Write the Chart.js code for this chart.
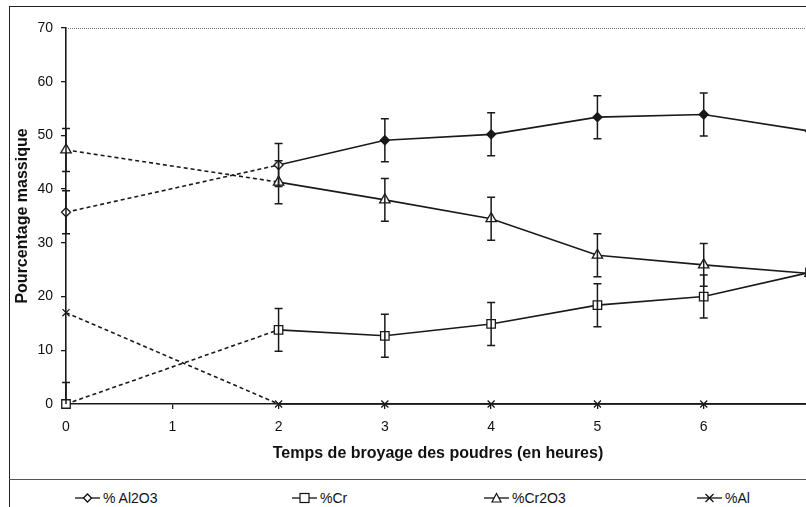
<!DOCTYPE html>
<html>
<head>
<meta charset="utf-8">
<script src="https://cdn.jsdelivr.net/npm/chart.js@4"></script>
<style>
  html, body { margin: 0; padding: 0; background: #fff; overflow: hidden; }
  body { width: 806px; height: 507px; position: relative; font-family: "Liberation Sans", Arial, sans-serif; }
  #frame { position: absolute; left: 9px; top: 6px; width: 840px; height: 520px; border: 1.5px solid #222; box-sizing: border-box; }
  #wrap { position: absolute; left: 0; top: 0; width: 830px; height: 479px; }
  #legend { position: absolute; left: 9px; top: 479px; width: 840px; height: 60px; border-top: 1px solid #555; }
  .item { position: absolute; top: 10px; font-size: 14px; color: #111; display: flex; align-items: center; white-space: nowrap; }
  .item svg { margin-right: 3px; }
</style>
</head>
<body>
<div id="frame"></div>
<div id="wrap"><canvas id="chart"></canvas></div>
<div id="legend"></div>
<script>
// heures de broyage
const hours = [0, 2, 3, 4, 5, 6, 7];
const al2o3 = [35.7, 44.5, 49.1, 50.2, 53.4, 53.9, 50.8];
const cr = [0, 13.8, 12.7, 14.9, 18.4, 20.0, 24.5];
const cr2o3 = [47.3, 41.3, 38.0, 34.5, 27.7, 25.9, 24.3];
const al = [17.0, 0, 0, 0, 0, 0, 0];
const errAl2o3 = [4, 4, 4, 4, 4, 4, 4];
const errCr = [4, 4, 4, 4, 4, 4, 4];
const errCr2o3 = [4, 4, 4, 4, 4, 4, 4];
const yTicks = [0, 10, 20, 30, 40, 50, 60, 70];
const xTicks = [0, 1, 2, 3, 4, 5, 6, 7];

const legendNames = ["% Al2O3", "%Cr", "%Cr2O3", "%Al"];
const legendX = [75, 292, 484, 697];

function pts(vals) {
  return hours.map((h, i) => ({ x: h, y: vals[i] }));
}

// dashed between 0 and 2 h, solid after
const dashSeg = {
  borderDash: ctx => (ctx.p0.parsed.x < 2 ? [4, 3] : undefined)
};

function makeSet(label, vals, errs, style, radius, fill) {
  return {
    label: label,
    data: pts(vals),
    errors: errs,
    clip: false,
    borderColor: "#1a1a1a",
    borderWidth: 1.6,
    pointStyle: style,
    pointRadius: radius,
    pointBorderColor: "#1a1a1a",
    pointBorderWidth: 1.3,
    pointBackgroundColor: fill,
    segment: dashSeg,
    tension: 0
  };
}

const errorBars = {
  id: "errorBars",
  afterDatasetsDraw(chart) {
    const c = chart.ctx, xs = chart.scales.x, ys = chart.scales.y;
    c.save();
    c.strokeStyle = "#1a1a1a";
    c.lineWidth = 1.5;
    chart.data.datasets.forEach(ds => {
      if (!ds.errors) return;
      ds.data.forEach((p, i) => {
        const e = ds.errors[i];
        if (!e) return;
        const px = xs.getPixelForValue(p.x);
        const top = ys.getPixelForValue(p.y + e);
        const bot = ys.getPixelForValue(Math.max(0, p.y - e));
        c.beginPath();
        c.moveTo(px, top); c.lineTo(px, bot);
        c.moveTo(px - 4, top); c.lineTo(px + 4, top);
        if (p.y - e > 0) { c.moveTo(px - 4, bot); c.lineTo(px + 4, bot); }
        c.stroke();
      });
    });
    c.restore();
  }
};

const topLine = {
  id: "topLine",
  beforeDatasetsDraw(chart) {
    const a = chart.chartArea, c = chart.ctx;
    c.save();
    c.strokeStyle = "#777";
    c.lineWidth = 1;
    c.setLineDash([1, 1]);
    c.beginPath();
    c.moveTo(a.left, a.top + 0.5);
    c.lineTo(a.right, a.top + 0.5);
    c.stroke();
    c.restore();
  }
};

const darkFill = ["#fff", "#fff", "#1a1a1a", "#1a1a1a", "#1a1a1a", "#1a1a1a", "#1a1a1a"];
const tickFont = { family: "'Liberation Sans', Arial", size: 14 };
const titleFont = { family: "'Liberation Sans', Arial", size: 16, weight: "bold" };

new Chart(document.getElementById("chart"), {
  type: "line",
  data: {
    datasets: [
      makeSet("% Al2O3", al2o3, errAl2o3, "rectRot", 4.5, darkFill),
      makeSet("%Cr", cr, errCr, "rect", 6, "#fff"),
      makeSet("%Cr2O3", cr2o3, errCr2o3, "triangle", 6, "#fff"),
      makeSet("%Al", al, null, "crossRot", 5, "#fff")
    ]
  },
  plugins: [topLine, errorBars],
  options: {
    responsive: true,
    maintainAspectRatio: false,
    animation: false,
    layout: { padding: { left: 0, top: 28, right: 20, bottom: 13 } },
    plugins: { legend: { display: false }, tooltip: { enabled: false } },
    scales: {
      x: {
        type: "linear",
        min: 0,
        max: 7,
        afterBuildTicks: s => { s.ticks = xTicks.map(v => ({ value: v })); },
        afterFit: s => { s.height = 62; },
        grid: { drawOnChartArea: false, drawTicks: true, tickLength: 5, color: "#1a1a1a", lineWidth: 1.3 },
        border: { color: "#1a1a1a", width: 1.6 },
        ticks: { color: "#111", font: tickFont, padding: 10, maxRotation: 0 },
        title: { display: true, text: "Temps de broyage des poudres (en heures)", color: "#111",
                 font: titleFont, padding: { top: 4, bottom: 3 } }
      },
      y: {
        min: 0,
        max: 70,
        afterBuildTicks: s => { s.ticks = yTicks.map(v => ({ value: v })); },
        afterFit: s => { s.width = 66; },
        grid: { drawOnChartArea: false, drawTicks: true, tickLength: 5, color: "#1a1a1a", lineWidth: 1.3 },
        border: { color: "#1a1a1a", width: 1.6 },
        ticks: { color: "#111", font: tickFont, padding: 8 },
        title: { display: true, text: "Pourcentage massique", color: "#111",
                 font: titleFont, padding: { top: 13, bottom: 4 } }
      }
    }
  }
});

// legend below, in its own frame row
const icons = [
  '<polygon points="12.5,2 16.5,6 12.5,10 8.5,6" fill="#fff" stroke="#111" stroke-width="1.3"/>',
  '<rect x="8" y="1.5" width="9" height="9" fill="#fff" stroke="#111" stroke-width="1.2"/>',
  '<polygon points="12.5,1.5 17,10 8,10" fill="#fff" stroke="#111" stroke-width="1.2"/>',
  '<path d="M8.5,2 L16.5,10 M16.5,2 L8.5,10" stroke="#111" stroke-width="1.3"/>'
];
const leg = document.getElementById("legend");
legendNames.forEach((n, i) => {
  const d = document.createElement("div");
  d.className = "item";
  d.style.left = (legendX[i] - 9) + "px";
  d.innerHTML = '<svg width="25" height="12"><line x1="0" y1="6" x2="25" y2="6" stroke="#111" stroke-width="1.3"/>' +
    icons[i] + '</svg><span></span>';
  d.querySelector("span").textContent = n;
  leg.appendChild(d);
});
</script>
</body>
</html>
